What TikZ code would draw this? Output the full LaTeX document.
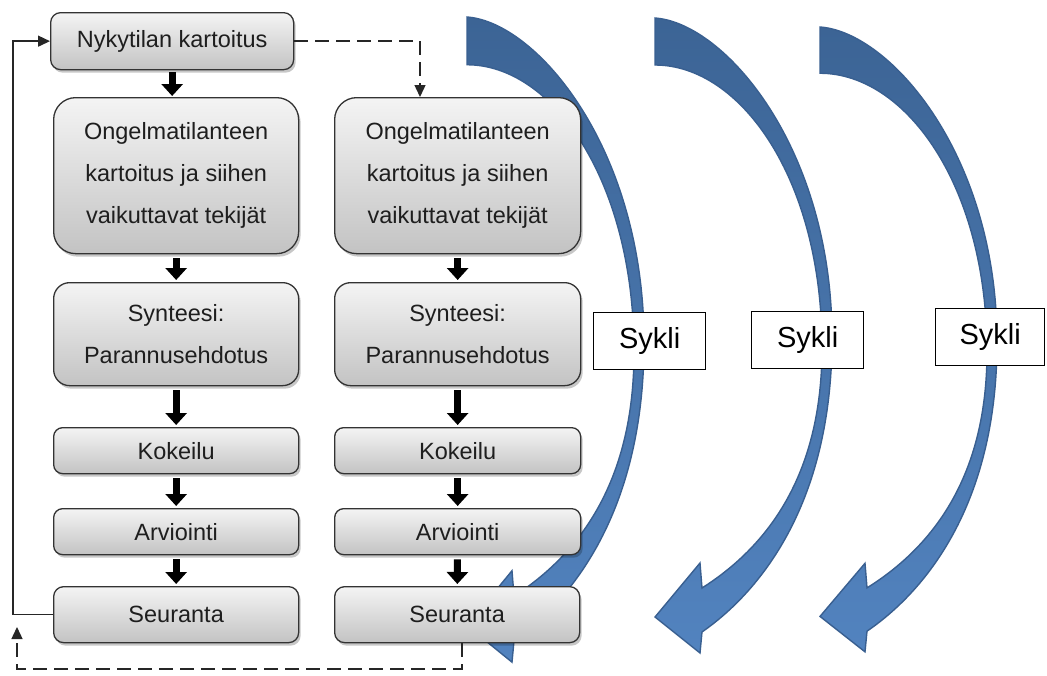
\documentclass[tikz,border=0pt]{standalone}
\usepackage{fontspec}
\setmainfont{Liberation Sans}
\usetikzlibrary{arrows.meta,shadows}

\definecolor{boxtop}{HTML}{F4F4F4}
\definecolor{boxbot}{HTML}{C3C3C3}
\definecolor{boxline}{HTML}{333333}
\definecolor{boxtext}{HTML}{1E1E1E}
\definecolor{cyctop}{HTML}{3C6495}
\definecolor{cycbot}{HTML}{5283BF}
\definecolor{cycline}{HTML}{395F90}

\tikzset{
  % curved blue cycle arrow, local units in pt, y pointing down
  cyclearrow/.pic={
    \path[top color=cyctop,bottom color=cycbot,draw=cycline,line width=1.4pt,line join=miter]
      (0,0) .. controls (70,5) and (177,130) .. (177,320)
      .. controls (177,480) and (110,570) .. (47,614)
      -- (45,635) -- (0,599) -- (45,545) -- (47,570)
      .. controls (110,530) and (167,460) .. (167,330)
      .. controls (167,160) and (85,47) .. (0,47) -- cycle;
  },
  stepbox/.style={draw=boxline, line width=1.3pt, top color=boxtop, bottom color=boxbot,
    drop shadow={shadow xshift=2pt, shadow yshift=-3pt, opacity=0.22, fill=black},
    anchor=north west, inner sep=0pt, align=center, text=boxtext,
    font=\fontsize{23.5}{42}\selectfont},
  cyclebox/.style={draw=black, line width=1.3pt, fill=white, anchor=north west,
    inner sep=0pt, minimum width=112pt, minimum height=57pt,
    font=\fontsize{29}{34}\selectfont},
  blockarrow/.style={line width=7pt, draw=black,
    -{Triangle[width=21pt,length=12pt]}, shorten <=4pt, shorten >=2pt},
  feedback/.style={line width=1.4pt, draw=black!85,
    -{Triangle[width=11pt,length=12pt]}},
  dashlink/.style={line width=1.4pt, draw=black!85, dash pattern=on 14pt off 7pt,
    -{Triangle[width=11pt,length=12pt]}}
}

\begin{document}
\begin{tikzpicture}[x=1pt,y=-1pt]
\useasboundingbox (0,0) rectangle (1047,675);

% blue cycle arrows (behind everything else)
\pic[yscale=1.016] at (467,17) {cyclearrow};
\pic at (655,18) {cyclearrow};
\pic[yscale=0.984] at (820,27) {cyclearrow};

% process steps, first round
\node[stepbox, minimum width=243pt, minimum height=57pt, rounded corners=10pt] (nyk) at (50,12) {Nykytilan kartoitus};
\node[stepbox, minimum width=245pt, minimum height=156pt, rounded corners=22pt] (ongA) at (53,97)
  {Ongelmatilanteen\\kartoitus ja siihen\\vaikuttavat tekijät};
\node[stepbox, minimum width=245pt, minimum height=103pt, rounded corners=16pt] (synA) at (53,282)
  {Synteesi:\\Parannusehdotus};
\node[stepbox, minimum width=245pt, minimum height=46pt, rounded corners=9pt] (kokA) at (53,427) {Kokeilu};
\node[stepbox, minimum width=245pt, minimum height=46pt, rounded corners=9pt] (arvA) at (53,508) {Arviointi};
\node[stepbox, minimum width=245pt, minimum height=56pt, rounded corners=10pt] (seuA) at (53,586) {Seuranta};

% process steps, second round
\node[stepbox, minimum width=246pt, minimum height=156pt, rounded corners=22pt] (ongB) at (334,97)
  {Ongelmatilanteen\\kartoitus ja siihen\\vaikuttavat tekijät};
\node[stepbox, minimum width=246pt, minimum height=103pt, rounded corners=16pt] (synB) at (334,282)
  {Synteesi:\\Parannusehdotus};
\node[stepbox, minimum width=246pt, minimum height=46pt, rounded corners=9pt] (kokB) at (334,427) {Kokeilu};
\node[stepbox, minimum width=246pt, minimum height=46pt, rounded corners=9pt] (arvB) at (334,508) {Arviointi};
\node[stepbox, minimum width=245pt, minimum height=56pt, rounded corners=10pt] (seuB) at (334,586) {Seuranta};

% cycle labels
\node[cyclebox] (s1) at (593,312) {Sykli};
\node[cyclebox] (s2) at (751,311) {Sykli};
\node[cyclebox, minimum width=109pt] (s3) at (935,308) {Sykli};

% step arrows
\draw[blockarrow, shorten <=2pt, shorten >=1pt] (nyk.south) -- (nyk.south |- ongA.north);
\draw[blockarrow] (ongA) -- (synA);
\draw[blockarrow] (synA) -- (kokA);
\draw[blockarrow] (kokA) -- (arvA);
\draw[blockarrow] (arvA) -- (seuA);
\draw[blockarrow] (ongB) -- (synB);
\draw[blockarrow] (synB) -- (kokB);
\draw[blockarrow] (kokB) -- (arvB);
\draw[blockarrow] (arvB) -- (seuB);

% feedback from monitoring back to the current-state survey
\coordinate (fbx) at (13,0);
\draw[feedback] (seuA.west) -| (nyk.west -| fbx) -- (nyk.west);

% dashed link to the second round
\coordinate (dx) at (420,0);
\draw[dashlink] (nyk.east) -- (nyk.east -| dx) -- (dx |- ongB.north);

% dashed return from the second round
\coordinate (dbr) at (462,669);
\coordinate (dbl) at (17,669);
\coordinate (dtip) at (17,627);
\draw[dashlink] (seuB.south -| dbr) -- (dbr) -- (dbl) -- (dtip);
\end{tikzpicture}
\end{document}
